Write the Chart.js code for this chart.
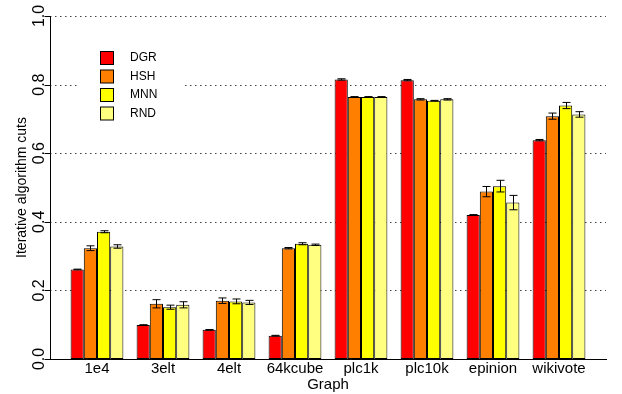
<!DOCTYPE html>
<html>
<head>
<meta charset="utf-8">
<title>Iterative algorithm cuts by graph</title>
<script src="https://cdn.jsdelivr.net/npm/chart.js@4.4.1/dist/chart.umd.min.js"></script>
<style>
  html, body { margin: 0; padding: 0; background: #ffffff; }
  #wrap { width: 622px; height: 394px; }
</style>
</head>
<body>
<div id="wrap"><canvas id="chart" width="622" height="394"></canvas></div>
<script>
// Graphs on the x axis
const graphs = ['1e4', '3elt', '4elt', '64kcube', 'plc1k', 'plc10k', 'epinion', 'wikivote'];

// Mean cut per algorithm, with the half-width of its error bar
const dgr    = [0.261, 0.099, 0.085, 0.068, 0.815, 0.813, 0.420, 0.638];
const dgrErr = [0.001, 0.001, 0.001, 0.001, 0.002, 0.002, 0.001, 0.002];
const hsh    = [0.323, 0.161, 0.170, 0.323, 0.764, 0.757, 0.488, 0.708];
const hshErr = [0.007, 0.012, 0.008, 0.002, 0.001, 0.002, 0.015, 0.009];
const mnn    = [0.371, 0.151, 0.168, 0.336, 0.764, 0.753, 0.504, 0.739];
const mnnErr = [0.003, 0.006, 0.007, 0.003, 0.001, 0.001, 0.017, 0.009];
const rnd    = [0.328, 0.158, 0.165, 0.333, 0.764, 0.757, 0.456, 0.713];
const rndErr = [0.005, 0.009, 0.006, 0.002, 0.001, 0.002, 0.021, 0.008];

const algorithms = ['DGR', 'HSH', 'MNN', 'RND'];
const yTicks = [0.0, 0.2, 0.4, 0.6, 0.8, 1.0];

// Bar-plot layout in bar-width units: 4 bars per group plus one bar of space
const BARS = algorithms.length;
const SLOT = BARS + 1;
const groupCenter = i => SLOT * i + 1 + BARS / 2;
const span = SLOT * graphs.length - 1;            // first bar left edge .. last bar right edge
const pad = span * 0.04;
const xMin = 1 - pad;
const xMax = 1 + span + pad;

const colors = ['#FF0000', '#FF8000', '#FFFF00', '#FFFF80'];
const series = [dgr, hsh, mnn, rnd];
const errors = [dgrErr, hshErr, mnnErr, rndErr];

const datasets = algorithms.map((name, k) => ({
  label: name,
  data: series[k].map((v, i) => ({ x: groupCenter(i), y: v })),
  errors: errors[k],
  backgroundColor: colors[k],
  borderColor: '#000000',
  borderWidth: 1,
  borderSkipped: false,
  categoryPercentage: 0.8,
  barPercentage: 1.0
}));

const FONT = '"Liberation Sans", Arial, Helvetica, sans-serif';

// Dotted horizontal reference lines behind the bars
const gridPlugin = {
  id: 'dottedGrid',
  beforeDatasetsDraw(chart) {
    const { ctx, chartArea: a, scales: { y } } = chart;
    ctx.save();
    ctx.strokeStyle = '#444444';
    ctx.lineWidth = 1;
    ctx.setLineDash([1.5, 3.5]);
    yTicks.forEach(t => {
      if (t === 0) return;
      const py = Math.round(y.getPixelForValue(t)) + 0.5;
      ctx.beginPath();
      ctx.moveTo(a.left, py);
      ctx.lineTo(a.right, py);
      ctx.stroke();
    });
    ctx.restore();
  }
};

// Error bars, axes, labels and the legend box
const decorPlugin = {
  id: 'decor',
  afterDatasetsDraw(chart) {
    const { ctx, chartArea: a, scales: { x, y } } = chart;
    ctx.save();

    // error bars
    ctx.strokeStyle = '#000000';
    ctx.lineWidth = 1;
    chart.data.datasets.forEach((ds, d) => {
      const meta = chart.getDatasetMeta(d);
      meta.data.forEach((bar, i) => {
        const v = ds.data[i].y, e = ds.errors[i];
        const cx = Math.round(bar.x) + 0.5;
        const y1 = y.getPixelForValue(v - e);
        const y2 = y.getPixelForValue(v + e);
        ctx.beginPath();
        ctx.moveTo(cx, y1); ctx.lineTo(cx, y2);
        ctx.moveTo(cx - 4, y1); ctx.lineTo(cx + 4, y1);
        ctx.moveTo(cx - 4, y2); ctx.lineTo(cx + 4, y2);
        ctx.stroke();
      });
    });

    // y axis line and ticks
    const ax = Math.round(a.left) + 0.5;
    ctx.beginPath();
    ctx.moveTo(ax, y.getPixelForValue(0));
    ctx.lineTo(ax, y.getPixelForValue(1));
    yTicks.forEach(t => {
      const py = Math.round(y.getPixelForValue(t)) + 0.5;
      ctx.moveTo(ax - 6, py);
      ctx.lineTo(ax, py);
    });
    ctx.stroke();

    // x axis line
    const by = Math.round(y.getPixelForValue(0)) + 0.5;
    ctx.beginPath();
    ctx.moveTo(a.left - 5, by);
    ctx.lineTo(a.right + 1, by);
    ctx.stroke();

    ctx.fillStyle = '#000000';

    // y tick labels, drawn parallel to the axis
    ctx.font = '16px ' + FONT;
    ctx.textAlign = 'center';
    ctx.textBaseline = 'alphabetic';
    yTicks.forEach(t => {
      const py = y.getPixelForValue(t);
      ctx.save();
      ctx.translate(a.left - 6, py);
      ctx.rotate(-Math.PI / 2);
      ctx.fillText(t.toFixed(1), 0, 0);
      ctx.restore();
    });

    // y axis title
    ctx.save();
    ctx.font = '14px ' + FONT;
    ctx.translate(26, (y.getPixelForValue(0) + y.getPixelForValue(1)) / 2);
    ctx.rotate(-Math.PI / 2);
    ctx.fillText('Iterative algorithm cuts', 0, 0);
    ctx.restore();

    // graph names under each group
    ctx.font = '15px ' + FONT;
    ctx.textBaseline = 'alphabetic';
    graphs.forEach((g, i) => {
      ctx.fillText(g, x.getPixelForValue(groupCenter(i)), 373);
    });

    // x axis title
    ctx.fillText('Graph', (a.left + a.right) / 2, 389);

    // legend
    ctx.fillStyle = '#ffffff';
    ctx.fillRect(80, 40, 103, 88);
    ctx.font = '12px ' + FONT;
    ctx.textAlign = 'left';
    ctx.textBaseline = 'middle';
    chart.data.datasets.forEach((ds, k) => {
      const top = 51 + k * 18.5;
      ctx.fillStyle = ds.backgroundColor;
      ctx.fillRect(100.5, top + 0.5, 13, 13);
      ctx.strokeStyle = '#000000';
      ctx.strokeRect(100.5, top + 0.5, 13, 13);
      ctx.fillStyle = '#000000';
      ctx.fillText(ds.label, 130, top + 7);
    });

    ctx.restore();
  }
};

new Chart(document.getElementById('chart'), {
  type: 'bar',
  data: { datasets },
  options: {
    responsive: false,
    animation: false,
    devicePixelRatio: 1,
    layout: { padding: { left: 50, right: 16, top: 16, bottom: 35 } },
    plugins: { legend: { display: false }, tooltip: { enabled: false } },
    scales: {
      x: {
        type: 'linear',
        min: xMin,
        max: xMax,
        offset: false,
        display: false,
        afterBuildTicks(scale) {
          scale.ticks = graphs.map((g, i) => ({ value: groupCenter(i) }));
        }
      },
      y: {
        min: 0,
        max: 1,
        display: false
      }
    }
  },
  plugins: [gridPlugin, decorPlugin]
});
</script>
</body>
</html>
